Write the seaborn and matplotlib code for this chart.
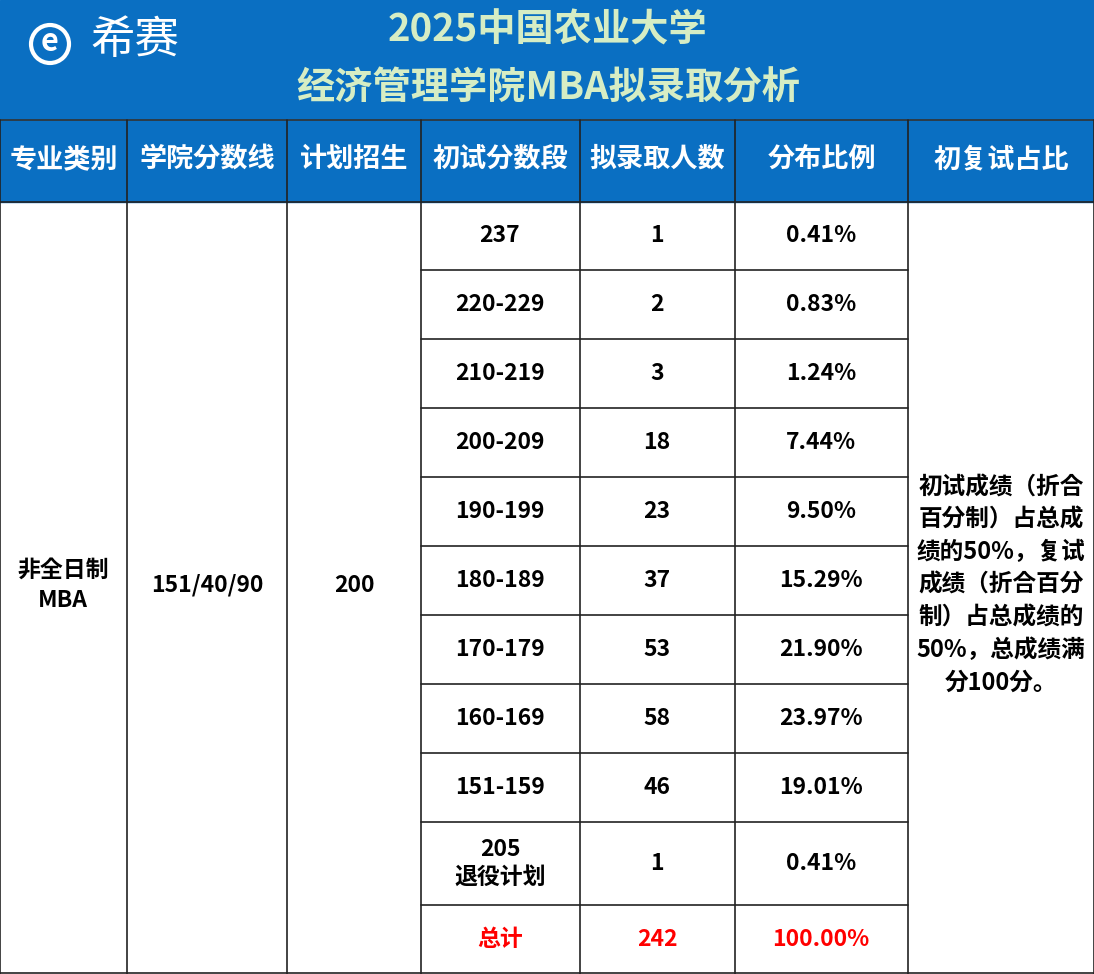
import matplotlib
matplotlib.use("Agg")
import matplotlib.pyplot as plt
import seaborn as sns
from matplotlib.patches import Rectangle, Circle

sns.set_theme(style="white")
plt.rcParams["font.family"] = ["Noto Sans CJK SC", "Noto Sans CJK JP", "DejaVu Sans"]

title_lines = ["2025中国农业大学", "经济管理学院MBA拟录取分析"]
headers = ["专业类别", "学院分数线", "计划招生", "初试分数段", "拟录取人数", "分布比例", "初复试占比"]
major = "非全日制\nMBA"
line_score = "151/40/90"
plan = "200"
ranges = ["237", "220-229", "210-219", "200-209", "190-199", "180-189", "170-179",
          "160-169", "151-159", "205\n退役计划", "总计"]
counts = ["1", "2", "3", "18", "23", "37", "53", "58", "46", "1", "242"]
ratios = ["0.41%", "0.83%", "1.24%", "7.44%", "9.50%", "15.29%", "21.90%",
          "23.97%", "19.01%", "0.41%", "100.00%"]
weight_text = "初试成绩（折合\n百分制）占总成\n绩的50%，复试\n成绩（折合百分\n制）占总成绩的\n50%，总成绩满\n分100分。"

W, H = 1094, 974
BLUE = "#0A6FC2"
cols = [0, 127, 287, 421, 580, 735, 908, 1094]
rows = [202, 270, 339, 408, 477, 546, 615, 684, 753, 822, 905, 974]

fig = plt.figure(figsize=(W/100, H/100), dpi=100)
ax = fig.add_axes([0, 0, 1, 1])
ax.set_xlim(0, W); ax.set_ylim(H, 0); ax.axis("off")

ax.add_patch(Rectangle((0, 0), W, 202, color=BLUE, zorder=0))
ax.plot([0, W], [120, 120], color="#333333", lw=1.2)
ax.text(W/2 + 1, 30, title_lines[0], ha="center", va="center", fontsize=27.5, weight="bold", color="#D6EDC4")
ax.text(W/2 + 1, 88, title_lines[1], ha="center", va="center", fontsize=27.5, weight="bold", color="#D6EDC4")
ax.add_patch(Circle((50, 44), 19, fill=False, ec="white", lw=3))
ax.text(50, 42, "e", ha="center", va="center", fontsize=22, weight="bold", color="white")
ax.text(135, 40, "希赛", ha="center", va="center", fontsize=32, color="white")

for i, h in enumerate(headers):
    ax.text((cols[i]+cols[i+1])/2, 159, h, ha="center", va="center", fontsize=19.5, weight="bold", color="white")

lc = "#222222"
for x in cols:
    ax.plot([x, x], [120, H], color=lc, lw=1.2)
ax.plot([0, W], [202, 202], color=lc, lw=1.2)
ax.plot([0, W], [H-1, H-1], color=lc, lw=1.2)
for y in rows[1:-1]:
    ax.plot([cols[3], cols[6]], [y, y], color=lc, lw=1.2)

fs = 16.5
tc = "#000000"
ax.text(63, 585, major, ha="center", va="center", fontsize=fs, weight="bold", linespacing=1.4, color=tc)
ax.text(207, 585, line_score, ha="center", va="center", fontsize=fs, weight="bold", color=tc)
ax.text(354, 585, plan, ha="center", va="center", fontsize=fs, weight="bold", color=tc)
for i in range(len(ranges)):
    yc = (rows[i] + rows[i+1]) / 2
    c = "#FF0000" if i == len(ranges) - 1 else tc
    ax.text(500, yc, ranges[i], ha="center", va="center", fontsize=fs, weight="bold", color=c, linespacing=1.3)
    ax.text(657, yc, counts[i], ha="center", va="center", fontsize=fs, weight="bold", color=c)
    ax.text(821, yc, ratios[i], ha="center", va="center", fontsize=fs, weight="bold", color=c)
ax.text(1001, 585, weight_text, ha="center", va="center", fontsize=17, weight="bold", linespacing=1.45, color=tc)

fig.savefig("out.png", dpi=100)
